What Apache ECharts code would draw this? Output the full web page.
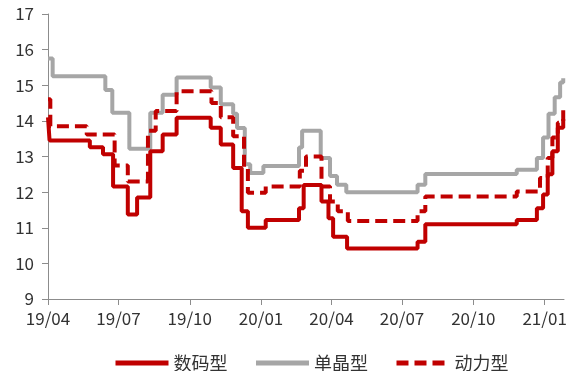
<!DOCTYPE html>
<html><head><meta charset="utf-8">
<script src="https://cdn.jsdelivr.net/npm/echarts@6/dist/echarts.min.js"></script>
<style>html,body{margin:0;padding:0;background:#fff}#c{width:571px;height:371px}</style>
</head><body><div id="c"></div>
<script>
const seriesNames = ['数码型', '单晶型', '动力型'];
const tickDates = ['2019-04-01','2019-07-01','2019-10-01','2020-01-01','2020-04-01','2020-07-01','2020-10-01','2021-01-01'];
const axisStart = '2019-04-01';
const axisEnd = '2021-01-26';

const digitalDates = ['2019-04-01','2019-04-03','2019-05-25','2019-06-11','2019-06-24','2019-07-13','2019-07-25','2019-08-11','2019-08-27','2019-09-14','2019-10-28','2019-11-10','2019-11-26','2019-12-07','2019-12-15','2020-01-07','2020-02-19','2020-02-25','2020-03-19','2020-03-28','2020-04-03','2020-04-21','2020-07-21','2020-07-31','2020-11-26','2020-12-22','2020-12-30','2021-01-05','2021-01-11','2021-01-18','2021-01-25'];
const digitalValues = [14.1,13.45,13.26,13.06,12.16,11.37,11.85,13.15,13.62,14.09,13.81,13.34,12.68,11.46,11.0,11.22,11.55,12.2,11.74,11.27,10.75,10.42,10.61,11.1,11.22,11.55,11.93,12.5,13.15,13.81,14.05];

const monoDates = ['2019-04-01','2019-04-07','2019-06-14','2019-06-23','2019-07-15','2019-08-11','2019-08-27','2019-09-14','2019-10-28','2019-11-10','2019-11-26','2019-12-01','2019-12-11','2019-12-18','2020-01-04','2020-02-19','2020-02-23','2020-03-18','2020-03-30','2020-04-08','2020-04-20','2020-07-21','2020-07-31','2020-11-26','2020-12-22','2020-12-30','2021-01-06','2021-01-14','2021-01-21','2021-01-25'];
const monoValues = [15.75,15.25,14.87,14.23,13.22,14.23,14.73,15.22,14.94,14.47,14.2,13.8,12.78,12.54,12.73,13.25,13.72,12.96,12.45,12.21,12.0,12.21,12.51,12.63,12.96,13.53,14.2,14.66,15.08,15.2];

const powerDates = ['2019-04-01','2019-04-04','2019-05-21','2019-06-26','2019-07-13','2019-08-08','2019-08-18','2019-09-14','2019-10-29','2019-11-10','2019-11-26','2019-12-10','2019-12-15','2020-01-07','2020-02-20','2020-02-28','2020-03-19','2020-03-30','2020-04-09','2020-04-22','2020-07-21','2020-07-31','2020-11-26','2020-12-26','2021-01-05','2021-01-11','2021-01-18','2021-01-25'];
const powerValues = [14.61,13.85,13.62,12.75,12.3,13.72,14.28,14.83,14.5,14.1,13.57,12.7,11.98,12.16,12.6,13.0,12.16,11.74,11.46,11.19,11.46,11.88,12.02,12.4,12.96,13.53,13.95,14.3];

const yTicks = [9,10,11,12,13,14,15,16,17];

const ts = d => Date.UTC(+d.slice(0,4), +d.slice(5,7) - 1, +d.slice(8,10));
const zip = (d, v) => d.map((x, i) => [ts(x), v[i]]);
const ticks = tickDates.map(ts);
const red = '#C00000', gray = '#A6A6A6';
const font = '"Noto Sans CJK SC", "Noto Sans", sans-serif';

const chart = echarts.init(document.getElementById('c'));
chart.setOption({
  animation: false,
  backgroundColor: '#fff',
  grid: { left: 48, right: 7, top: 14, bottom: 72, containLabel: false },
  legend: {
    top: 349, left: 108, itemWidth: 53, itemHeight: 8, itemGap: 26,
    itemStyle: { opacity: 0 },
    lineStyle: { width: 5 },
    textStyle: { fontFamily: font, fontSize: 18, color: '#333' },
    data: seriesNames
  },
  xAxis: {
    type: 'value', min: ts(axisStart), max: ts(axisEnd),
    axisLine: { lineStyle: { color: '#8c8c8c', width: 1 } },
    axisTick: { show: true, length: 6, customValues: ticks, lineStyle: { color: '#8c8c8c' } },
    axisLabel: {
      customValues: ticks, color: '#333', fontFamily: font, fontSize: 17, margin: 11,
      formatter: v => { const d = new Date(v); return String(d.getUTCFullYear() % 100).padStart(2,'0') + '/' + String(d.getUTCMonth() + 1).padStart(2,'0'); }
    },
    splitLine: { show: false }
  },
  yAxis: {
    type: 'value', min: yTicks[0], max: yTicks[yTicks.length - 1], interval: 1,
    axisLine: { show: true, lineStyle: { color: '#8c8c8c', width: 1 } },
    axisTick: { show: true, length: 6, lineStyle: { color: '#8c8c8c' } },
    axisLabel: { color: '#333', fontFamily: font, fontSize: 17, margin: 14 },
    splitLine: { show: false }
  },
  series: [
    { name: seriesNames[0], type: 'line', step: 'end', symbol: 'none', data: zip(digitalDates, digitalValues),
      lineStyle: { color: red, width: 4 }, itemStyle: { color: red }, z: 3 },
    { name: seriesNames[1], type: 'line', step: 'end', symbol: 'none', data: zip(monoDates, monoValues),
      lineStyle: { color: gray, width: 4 }, itemStyle: { color: gray }, z: 2 },
    { name: seriesNames[2], type: 'line', step: 'end', symbol: 'none', data: zip(powerDates, powerValues),
      lineStyle: { color: red, width: 4, type: [12, 6] }, itemStyle: { color: red }, z: 4 }
  ]
});
</script></body></html>
